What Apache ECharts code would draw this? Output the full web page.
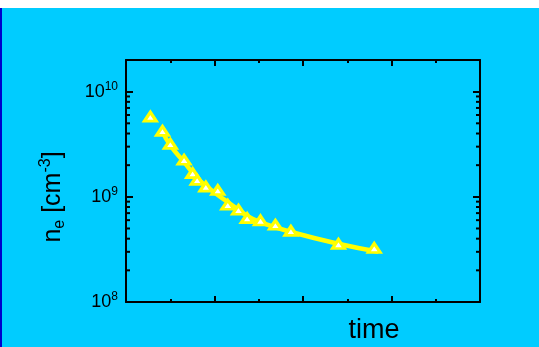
<!DOCTYPE html>
<html>
<head>
<meta charset="utf-8">
<script src="https://cdn.jsdelivr.net/npm/echarts@6/dist/echarts.min.js"></script>
<style>
  html, body { margin: 0; padding: 0; background: #fff; }
  #chart { width: 539px; height: 347px; }
</style>
</head>
<body>
<div id="chart"></div>
<script>
// measured points (time in arbitrary units, n_e in cm^-3)
const pointTime = [0.275, 0.412, 0.501, 0.656, 0.753, 0.804, 0.902, 1.037, 1.150, 1.271, 1.369, 1.520, 1.688, 1.863, 2.401, 2.805];
const pointNe = [5.79e9, 4.24e9, 3.19e9, 2.25e9, 1.68e9, 1.45e9, 1.25e9, 1.16e9, 8.4e8, 7.53e8, 6.28e8, 5.96e8, 5.42e8, 4.75e8, 3.56e8, 3.26e8];

// fitted curve
const fitTime = [0.407, 0.498, 0.645, 0.837, 1.018, 1.177, 1.369, 1.539, 1.856, 2.399, 2.852];
const fitNe = [4.24e9, 3.12e9, 2.20e9, 1.42e9, 1.07e9, 8.6e8, 6.6e8, 5.66e8, 4.66e8, 3.58e8, 3.0e8];

// minor log ticks 2..9 per decade
const minorTickVals = [2e8, 3e8, 4e8, 5e8, 6e8, 7e8, 8e8, 9e8, 2e9, 3e9, 4e9, 5e9, 6e9, 7e9, 8e9, 9e9];

const font = 'Arial, "Liberation Sans", sans-serif';
const chart = echarts.init(document.getElementById('chart'), null, { renderer: 'canvas' });

const xAxisBase = {
  type: 'value', min: 0, max: 4, interval: 1,
  axisLine: { lineStyle: { color: '#000', width: 2 } },
  axisTick: { inside: true, length: 6, lineStyle: { color: '#000', width: 2 } },
  minorTick: { show: true, splitNumber: 2, length: 3, lineStyle: { color: '#000', width: 2 } },
  axisLabel: { show: false },
  splitLine: { show: false }
};
const yAxisBase = {
  type: 'log', logBase: 10, min: 1e8, max: 2e10,
  axisLine: { onZero: false, lineStyle: { color: '#000', width: 2 } },
  axisTick: { inside: true, length: 7, lineStyle: { color: '#000', width: 2 } },
  splitLine: { show: false }
};

chart.setOption({
  backgroundColor: '#00ccff',
  animation: false,
  grid: { left: 126, right: 59, top: 60, bottom: 45 },
  xAxis: [
    Object.assign({}, xAxisBase, { position: 'bottom' }),
    Object.assign({}, xAxisBase, { position: 'top' })
  ],
  yAxis: [
    Object.assign({}, yAxisBase, {
      position: 'left',
      axisLabel: {
        margin: 8,
        color: '#000',
        formatter: function (v) {
          const e = Math.round(Math.log10(v));
          if (Math.abs(Math.pow(10, e) - v) / v > 1e-6) return '';
          return '{b|10}{s|' + e + '}';
        },
        rich: {
          b: { fontSize: 18, fontFamily: font, color: '#000' },
          s: { fontSize: 12, fontFamily: font, color: '#000', verticalAlign: 'top', padding: [0, 0, 10, 0] }
        }
      }
    }),
    Object.assign({}, yAxisBase, { position: 'right', axisLabel: { show: false } })
  ],
  series: [
    {
      type: 'custom',
      silent: true,
      data: minorTickVals.map(v => [0, v]),
      renderItem: function (params, api) {
        const v = api.value(1);
        const l = api.coord([0, v]);
        const r = api.coord([4, v]);
        const st = { stroke: '#000', lineWidth: 2 };
        return {
          type: 'group',
          children: [
            { type: 'line', shape: { x1: l[0], y1: l[1], x2: l[0] + 4, y2: l[1] }, style: st },
            { type: 'line', shape: { x1: r[0] - 4, y1: r[1], x2: r[0], y2: r[1] }, style: st }
          ]
        };
      }
    },
    {
      type: 'line',
      data: fitTime.map((t, i) => [t, fitNe[i]]),
      smooth: true,
      showSymbol: false,
      lineStyle: { color: '#ffff00', width: 4.5 },
      z: 3
    },
    {
      type: 'scatter',
      data: pointTime.map((t, i) => [t, pointNe[i]]),
      symbol: 'triangle',
      symbolSize: [12, 9],
      itemStyle: { color: '#ffffff', borderColor: '#ffff00', borderWidth: 3, opacity: 1 },
      z: 4
    }
  ],
  graphic: [
    { type: 'rect', left: 0, top: 0, shape: { width: 539, height: 8 }, style: { fill: '#ffffff' } },
    { type: 'rect', left: 0, top: 8, shape: { width: 2, height: 339 }, style: { fill: '#0000cc' } },
    {
      type: 'text', x: 374, y: 331,
      style: { text: 'time', font: '27px ' + font, fill: '#000', textAlign: 'center', textVerticalAlign: 'middle' }
    },
    {
      type: 'text', x: 53, y: 197, rotation: Math.PI / 2,
      style: {
        text: '{m|n}{sub|e}{m| [cm}{sup|-3}{m|]}',
        textAlign: 'center', textVerticalAlign: 'middle',
        rich: {
          m: { fontSize: 25, fontFamily: font, fill: '#000' },
          sub: { fontSize: 16, fontFamily: font, fill: '#000', verticalAlign: 'bottom', padding: [14, 0, 0, 0] },
          sup: { fontSize: 16, fontFamily: font, fill: '#000', verticalAlign: 'top', padding: [0, 0, 14, 0] }
        }
      }
    }
  ]
});
</script>
</body>
</html>
